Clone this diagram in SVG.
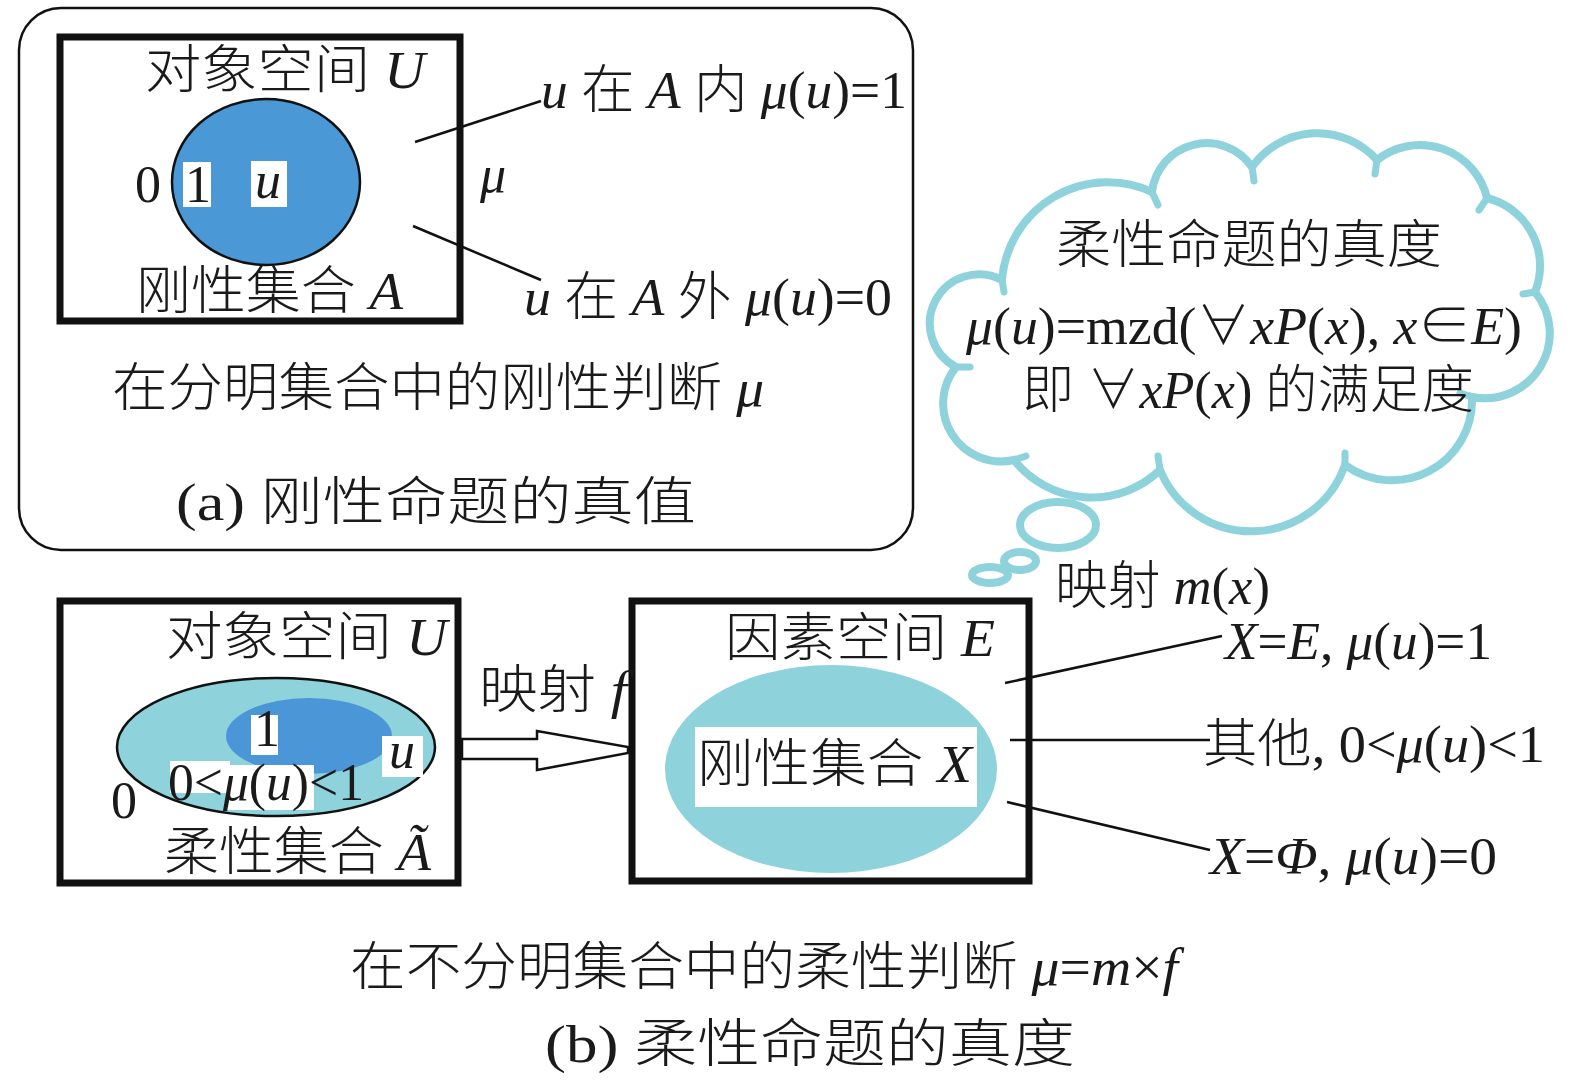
<svg xmlns="http://www.w3.org/2000/svg" width="1575" height="1088" viewBox="0 0 1575 1088">
<style>
.t{font-family:"Liberation Serif","Noto Sans CJK SC",serif;font-size:52px;fill:#1a1a1a;font-weight:300}
.i{font-style:italic}
.box{fill:#fff;stroke:#111;stroke-width:7}
.ln{stroke:#111;stroke-width:2.5;fill:none}
.cloud{fill:#fff;stroke:#8ED2DC;stroke-width:8}
.tick{fill:none;stroke:#8ED2DC;stroke-width:7;stroke-linecap:round}
.wb{fill:#fff}
</style>
<rect width="1575" height="1088" fill="#fff"/>

<g id="panel-a">
<rect x="19" y="8" width="894" height="542" rx="42" ry="42" fill="#fff" stroke="#111" stroke-width="2.5"/>
</g>

<g id="object-space-a">
<rect class="box" x="60" y="37" width="400" height="284"/>
<ellipse cx="266" cy="182" rx="94" ry="83" fill="#4A98D6" stroke="#111" stroke-width="2.5"/>
<text class="t" x="145" y="88" textLength="280" lengthAdjust="spacingAndGlyphs">对象空间 <tspan class="i">U</tspan></text>
<text class="t" x="135" y="202" font-size="50">0</text>
<rect class="wb" x="183" y="162" width="28" height="45"/>
<text class="t" x="185" y="202" font-size="50">1</text>
<rect class="wb" x="251" y="161" width="36" height="46"/>
<text class="t i" x="255" y="198" font-size="50">u</text>
<text class="t" x="136" y="309" textLength="267" lengthAdjust="spacingAndGlyphs">刚性集合 <tspan class="i">A</tspan></text>
</g>

<g id="labels-a">
<text class="t" x="541" y="108" textLength="366" lengthAdjust="spacingAndGlyphs"><tspan class="i">u</tspan> 在 <tspan class="i">A</tspan> 内 <tspan class="i">μ</tspan>(<tspan class="i">u</tspan>)=1</text>
<text class="t i" x="480" y="192">μ</text>
<text class="t" x="524" y="315" textLength="368" lengthAdjust="spacingAndGlyphs"><tspan class="i">u</tspan> 在 <tspan class="i">A</tspan> 外 <tspan class="i">μ</tspan>(<tspan class="i">u</tspan>)=0</text>
<text class="t" x="112" y="406" textLength="652" lengthAdjust="spacingAndGlyphs">在分明集合中的刚性判断 <tspan class="i">μ</tspan></text>
<text class="t" x="176" y="520" font-size="54" textLength="520" lengthAdjust="spacingAndGlyphs">(a) 刚性命题的真值</text>
</g>

<g id="cloud">
<path class="cloud" d="M1002 280 A106 106 0 0 1 1152 192 A55 55 0 0 1 1252 167 A80 80 0 0 1 1377 160 A69 69 0 0 1 1487 198 A70 70 0 0 1 1535 292 A65 65 0 0 1 1472 397 A80 80 0 0 1 1345 465 A99 99 0 0 1 1160 470 A99 99 0 0 1 1014 460 A58 58 0 0 1 956 367 A49 49 0 0 1 1002 280 Z"/>
<path class="tick" d="M1002 280 l2 12 M1152 192 l6 13 M1252 167 l2 14 M1377 160 l-2 14 M1487 198 l-8 12 M1535 292 l-12 2 M1472 397 l-12 -4 M1345 465 l0 -12 M1160 470 l-2 -14 M1014 460 l12 -4 M956 367 l14 0"/>
<ellipse class="cloud" cx="1058" cy="525" rx="38" ry="23"/>
<ellipse class="cloud" cx="1020" cy="561" rx="16" ry="9"/>
<ellipse class="cloud" cx="990" cy="575" rx="18" ry="8"/>
<text class="t" x="1056" y="263" textLength="386" lengthAdjust="spacingAndGlyphs">柔性命题的真度</text>
<text class="t" x="966" y="344" textLength="556" lengthAdjust="spacingAndGlyphs"><tspan class="i">μ</tspan>(<tspan class="i">u</tspan>)=mzd(∀<tspan class="i">xP</tspan>(<tspan class="i">x</tspan>), <tspan class="i">x</tspan>∈<tspan class="i">E</tspan>)</text>
<text class="t" x="1022" y="408" textLength="452" lengthAdjust="spacingAndGlyphs">即 ∀<tspan class="i">xP</tspan>(<tspan class="i">x</tspan>) 的满足度</text>
</g>

<g id="object-space-b">
<rect class="box" x="60" y="601" width="398" height="282"/>
<ellipse cx="276" cy="747" rx="159" ry="69" fill="#8ED2DC"/>
<ellipse cx="309" cy="736" rx="83" ry="38" fill="#4A96D6"/>
<rect class="wb" x="170" y="761" width="60" height="32"/>
<rect class="wb" x="226" y="765" width="88" height="45"/>
<ellipse cx="276" cy="747" rx="159" ry="69" fill="none" stroke="#111" stroke-width="2.5"/>
<rect class="wb" x="251" y="715" width="27" height="40"/>
<text class="t" x="254" y="746" font-size="42">1</text>
<rect class="wb" x="382" y="736" width="41" height="41"/>
<text class="t i" x="389" y="768" font-size="50">u</text>
<text class="t" x="111" y="818" font-size="50">0</text>
<text class="t" x="168" y="800" font-size="46" textLength="196" lengthAdjust="spacingAndGlyphs">0&lt;<tspan class="i">μ</tspan>(<tspan class="i">u</tspan>)&lt;1</text>
<text class="t" x="164" y="870" textLength="267" lengthAdjust="spacingAndGlyphs">柔性集合 <tspan class="i">Ã</tspan></text>
<text class="t" x="166" y="655" textLength="281" lengthAdjust="spacingAndGlyphs">对象空间 <tspan class="i">U</tspan></text>
</g>

<g id="factor-space-e">
<rect class="box" x="632" y="601" width="397" height="280"/>
<ellipse cx="831" cy="769" rx="166" ry="104" fill="#8ED2DC"/>
<rect class="wb" x="695" y="727" width="282" height="80"/>
<text class="t" x="697" y="782" textLength="275" lengthAdjust="spacingAndGlyphs">刚性集合 <tspan class="i">X</tspan></text>
<text class="t" x="725" y="656" textLength="270" lengthAdjust="spacingAndGlyphs">因素空间 <tspan class="i">E</tspan></text>
</g>

<g id="connectors">
<line class="ln" x1="415" y1="142" x2="541" y2="101"/>
<line class="ln" x1="413" y1="226" x2="541" y2="280"/>
<polygon points="462,739 537,739 537,731 628,747 628,753 537,770 537,759 462,759" fill="#fff" stroke="#111" stroke-width="2.5" stroke-linejoin="miter"/>
<line class="ln" x1="1005" y1="683" x2="1222" y2="636"/>
<line class="ln" x1="1010" y1="740" x2="1210" y2="740"/>
<line class="ln" x1="1007" y1="802" x2="1210" y2="850"/>
</g>

<g id="labels-b">
<text class="t" x="479" y="708" textLength="148" lengthAdjust="spacingAndGlyphs">映射 <tspan class="i">f</tspan></text>
<text class="t" x="1055" y="604" font-size="50" textLength="215" lengthAdjust="spacingAndGlyphs">映射 <tspan class="i">m</tspan>(<tspan class="i">x</tspan>)</text>
<text class="t" x="1225" y="659" textLength="267" lengthAdjust="spacingAndGlyphs"><tspan class="i">X</tspan>=<tspan class="i">E</tspan>, <tspan class="i">μ</tspan>(<tspan class="i">u</tspan>)=1</text>
<text class="t" x="1203" y="762" textLength="342" lengthAdjust="spacingAndGlyphs">其他, 0&lt;<tspan class="i">μ</tspan>(<tspan class="i">u</tspan>)&lt;1</text>
<text class="t" x="1210" y="874" textLength="287" lengthAdjust="spacingAndGlyphs"><tspan class="i">X</tspan>=<tspan class="i">Φ</tspan>, <tspan class="i">μ</tspan>(<tspan class="i">u</tspan>)=0</text>
<text class="t" x="350" y="985" textLength="828" lengthAdjust="spacingAndGlyphs">在不分明集合中的柔性判断 <tspan class="i">μ</tspan>=<tspan class="i">m</tspan>×<tspan class="i">f</tspan></text>
<text class="t" x="545" y="1062" font-size="54" textLength="530" lengthAdjust="spacingAndGlyphs">(b) 柔性命题的真度</text>
</g>
</svg>
